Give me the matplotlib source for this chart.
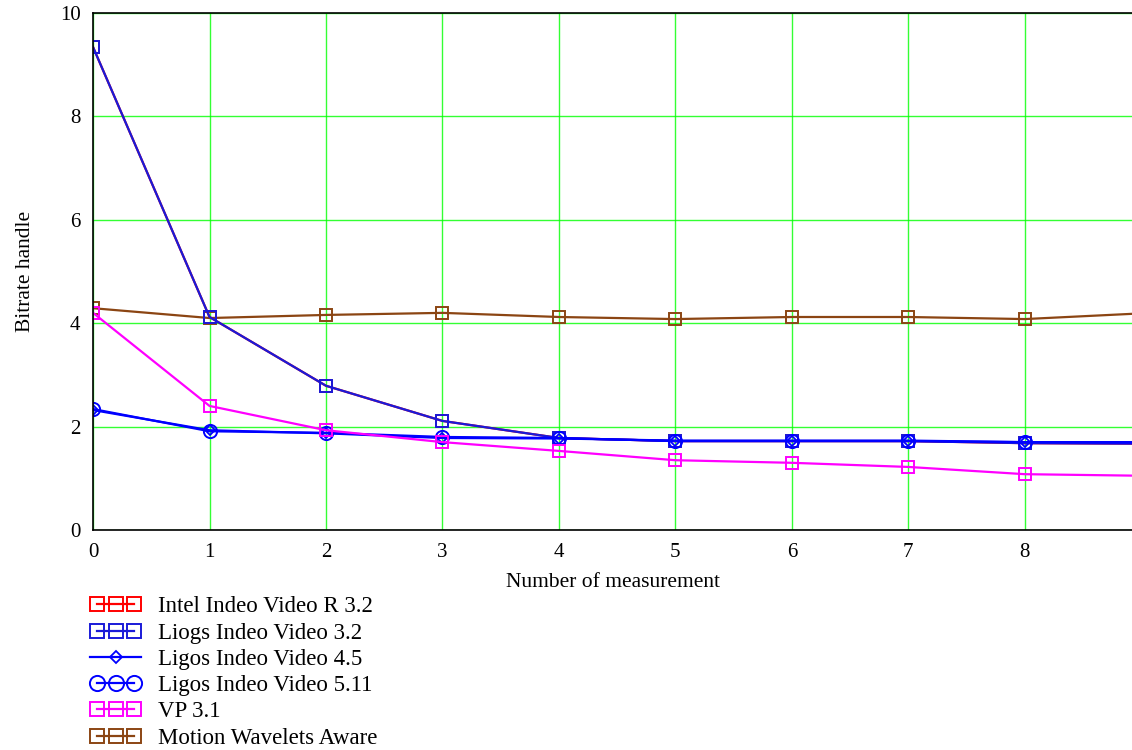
import numpy as np
import matplotlib
matplotlib.use('Agg')
import matplotlib.pyplot as plt
from matplotlib.legend_handler import HandlerLine2D

plt.rcParams['font.family'] = ['Liberation Serif', 'DejaVu Serif']
plt.rcParams['font.size'] = 15

# measurement index 0..9 (last one only partly visible)
x = [0, 1, 2, 3, 4, 5, 6, 7, 8, 9]

intel_32 = [9.34, 4.12, 2.79, 2.11, 1.78, 1.72, 1.72, 1.72, 1.68, 1.67]
liogs_32 = [9.34, 4.12, 2.79, 2.11, 1.78, 1.72, 1.72, 1.72, 1.68, 1.67]
ligos_45 = [2.32, 1.93, 1.87, 1.78, 1.77, 1.73, 1.73, 1.73, 1.70, 1.69]
ligos_511 = [2.34, 1.91, 1.88, 1.80, 1.78, 1.72, 1.72, 1.72, 1.70, 1.70]
vp_31 = [4.20, 2.40, 1.93, 1.70, 1.53, 1.35, 1.30, 1.22, 1.08, 1.05]
wavelets = [4.29, 4.10, 4.16, 4.20, 4.12, 4.08, 4.12, 4.12, 4.08, 4.19]

labels = ['Intel Indeo Video R 3.2', 'Liogs Indeo Video 3.2', 'Ligos Indeo Video 4.5',
          'Ligos Indeo Video 5.11', 'VP 3.1', 'Motion Wavelets Aware']

fig = plt.figure(figsize=(11.32, 7.5), dpi=100)
ax = fig.add_axes([0.0822, 0.2933, 0.9178, 0.6894])

sq = dict(marker='s', markersize=9, markerfacecolor='none', markeredgewidth=1.4, lw=1.6)
l1, = ax.plot(x, intel_32, color='#ff0000', label=labels[0], **sq)
l2, = ax.plot(x, liogs_32, color='#1a1ad8', label=labels[1], **sq)
l3, = ax.plot(x, ligos_45, color='#0000ff', lw=1.6, marker='D', markersize=5.5,
              markerfacecolor='none', markeredgewidth=1.3, label=labels[2])
l4, = ax.plot(x, ligos_511, color='#0000ff', lw=1.6, marker='o', markersize=9.5,
              markerfacecolor='none', markeredgewidth=1.4, label=labels[3])
l5, = ax.plot(x, vp_31, color='#ff00ff', label=labels[4], **sq)
l6, = ax.plot(x, wavelets, color='#8b4513', label=labels[5], **sq)
l6.set_zorder(1.5)

ax.set_xlim(0, 8.92)
ax.set_ylim(0, 10)
ax.set_xticks(range(0, 9))
ax.set_yticks(range(0, 11, 2))
ax.grid(True, color='#00ff00', lw=1.0, alpha=0.8)
ax.set_axisbelow(True)
ax.tick_params(length=0, pad=9)
ax.spines['right'].set_visible(False)
for s in ['left', 'bottom', 'top']:
    ax.spines[s].set_linewidth(1.2)

ax.set_xlabel('Number of measurement', labelpad=8, fontsize=15.5)
ax.set_ylabel('Bitrate handle', labelpad=18, fontsize=15.5)

fig.legend(handles=[l1, l2, l3, l4, l5, l6], loc='upper left',
           bbox_to_anchor=(0.0718, 0.2173), frameon=False, numpoints=3,
           fontsize=16.5, handlelength=2.2, handletextpad=0.75, labelspacing=0.23,
           markerscale=1.15, borderaxespad=0,
           handler_map={l3: HandlerLine2D(numpoints=1)})

plt.savefig('out.png', dpi=100)
